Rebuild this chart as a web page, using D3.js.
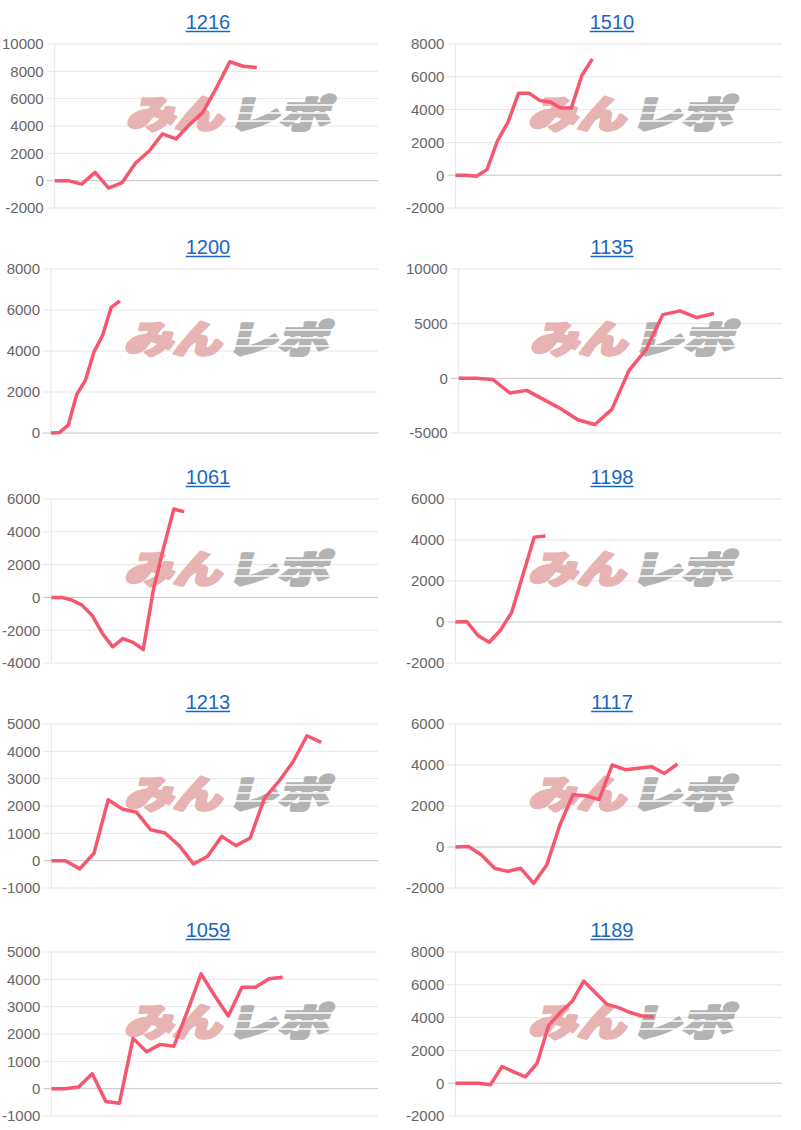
<!DOCTYPE html>
<html lang="ja">
<head>
<meta charset="UTF-8">
<title>差枚グラフ</title>
<style>
  body { margin: 0; background: #fff; }
  svg { display: block; font-family: "Liberation Sans", Arial, sans-serif; }
  .title { font-size: 20px; fill: #1a66c4; }
  .ylabel { font-size: 15px; fill: #666; }
  .wm { font-family: "Noto Sans CJK JP", sans-serif; font-weight: 900; font-size: 38px; stroke-width: 3; stroke-linejoin: round; }
</style>
</head>
<body>
<div id="charts"></div>
<script src="https://cdn.jsdelivr.net/npm/d3@7"></script>
<script>
// machine numbers, in page order (left→right, top→bottom)
const titles = ["1216", "1510", "1200", "1135", "1061", "1198", "1213", "1117", "1059", "1189"];

// number of x slots on each chart (the line stops part way)
const slotCounts = [25, 32, 39, 20, 33, 30, 24, 26, 25, 29];

// y axis ticks
const ticks1216 = [-2000, 0, 2000, 4000, 6000, 8000, 10000];
const ticks1510 = [-2000, 0, 2000, 4000, 6000, 8000];
const ticks1200 = [0, 2000, 4000, 6000, 8000];
const ticks1135 = [-5000, 0, 5000, 10000];
const ticks1061 = [-4000, -2000, 0, 2000, 4000, 6000];
const ticks1198 = [-2000, 0, 2000, 4000, 6000];
const ticks1213 = [-1000, 0, 1000, 2000, 3000, 4000, 5000];
const ticks1117 = [-2000, 0, 2000, 4000, 6000];
const ticks1059 = [-1000, 0, 1000, 2000, 3000, 4000, 5000];
const ticks1189 = [-2000, 0, 2000, 4000, 6000, 8000];

// values (差枚)
const values1216 = [0, 0, -250, 610, -540, -150, 1290, 2150, 3420, 3050, 4100, 5000, 6780, 8700, 8370, 8270];
const values1510 = [0, 0, -60, 340, 2100, 3240, 5000, 5000, 4560, 4460, 4090, 4090, 6080, 7090];
const values1200 = [0, 30, 380, 1890, 2570, 3960, 4770, 6130, 6450];
const values1135 = [0, 0, -100, -1340, -1100, -1950, -2780, -3790, -4220, -2840, 700, 2600, 5830, 6170, 5560, 5930];
const values1061 = [0, 0, -160, -470, -1100, -2200, -3020, -2510, -2740, -3180, 490, 3040, 5390, 5220];
const values1198 = [0, 30, -660, -990, -400, 470, 2300, 4140, 4200];
const values1213 = [0, 0, -300, 270, 2230, 1890, 1770, 1130, 1010, 550, -120, 160, 890, 550, 830, 2280, 2890, 3600, 4570, 4330];
const values1117 = [0, 20, -390, -1040, -1190, -1040, -1770, -860, 1070, 2550, 2500, 2310, 4000, 3770, 3840, 3920, 3590, 4050];
const values1059 = [0, 0, 60, 550, -470, -530, 1840, 1350, 1620, 1550, 2840, 4200, 3400, 2660, 3710, 3710, 4020, 4080];
const values1189 = [0, 0, 0, -100, 1020, 690, 390, 1200, 3530, 4310, 4980, 6230, 5520, 4810, 4610, 4310, 4100, 4040];

const tickSets = [ticks1216, ticks1510, ticks1200, ticks1135, ticks1061, ticks1198, ticks1213, ticks1117, ticks1059, ticks1189];
const seriesList = [values1216, values1510, values1200, values1135, values1061, values1198, values1213, values1117, values1059, values1189];

const width = 801;
const height = 1130;
const colLeft = [0, 404];
const rowTop = [44, 269, 499, 724, 952];
const plotH = 164;
const lineColor = "#f7566f";

const svg = d3.select("#charts")
  .append("svg")
  .attr("width", width)
  .attr("height", height);

titles.forEach((title, i) => {
  const col = i % 2;
  const row = Math.floor(i / 2);
  const left = colLeft[col];
  const top = rowTop[row];
  const tickVals = tickSets[i];
  const values = seriesList[i];

  const g = svg.append("g");

  // y labels first, so the axis can sit just right of the widest one
  const labels = g.selectAll(".ylabel")
    .data(tickVals)
    .enter()
    .append("text")
    .attr("class", "ylabel")
    .attr("text-anchor", "end")
    .text(d => d);
  let maxW = 0;
  labels.each(function () { maxW = Math.max(maxW, this.getComputedTextLength()); });

  const x0 = left + Math.max(51, 13 + maxW);
  const x1 = left + 378;

  const yScale = d3.scaleLinear()
    .domain(d3.extent(tickVals))
    .range([top + plotH, top]);

  const xScale = d3.scalePoint()
    .domain(d3.range(slotCounts[i]))
    .range([x0, x1]);

  labels
    .attr("x", x0 - 11)
    .attr("y", d => yScale(d))
    .attr("dy", "0.36em");

  // grid
  g.selectAll(".grid")
    .data(tickVals)
    .enter()
    .insert("line", "text")
    .attr("x1", x0 - 8)
    .attr("x2", x1)
    .attr("y1", d => yScale(d))
    .attr("y2", d => yScale(d))
    .attr("stroke", d => d === 0 ? "#c4c4c4" : "#e6e6e6")
    .attr("stroke-width", 1);

  g.append("line")
    .attr("x1", x0).attr("x2", x0)
    .attr("y1", top).attr("y2", top + plotH)
    .attr("stroke", "#e6e6e6");

  // watermark
  const cx = (x0 + x1) / 2 + 15;
  const cy = top + plotH / 2 - 12;
  const wm = g.append("g")
    .attr("opacity", 0.85)
    .attr("transform", `translate(${cx},${cy}) skewX(-14)`);
  wm.append("text")
    .attr("class", "wm")
    .attr("x", -102)
    .attr("y", 14)
    .attr("textLength", 97)
    .attr("lengthAdjust", "spacingAndGlyphs")
    .attr("fill", "#e3a6a6")
    .attr("stroke", "#e3a6a6")
    .text("みん");
  wm.append("text")
    .attr("class", "wm")
    .attr("x", 0)
    .attr("y", 14)
    .attr("textLength", 102)
    .attr("lengthAdjust", "spacingAndGlyphs")
    .attr("fill", "#a6a6a6")
    .attr("stroke", "#a6a6a6")
    .text("レポ");
  // speed-line slits through the grey part
  [-9, -1, 7].forEach(dy => {
    wm.append("line")
      .attr("x1", -2).attr("x2", 106)
      .attr("y1", dy).attr("y2", dy)
      .attr("stroke", "#fff")
      .attr("stroke-width", 1.5);
  });

  // line
  const line = d3.line()
    .x((d, k) => xScale(k))
    .y(d => yScale(d));

  g.append("path")
    .datum(values)
    .attr("d", line)
    .attr("fill", "none")
    .attr("stroke", lineColor)
    .attr("stroke-width", 3.5)
    .attr("stroke-linejoin", "round");

  // title (link style)
  const t = g.append("text")
    .attr("class", "title")
    .attr("x", left + 208)
    .attr("y", top - 15)
    .attr("text-anchor", "middle")
    .text(title);
  const bb = t.node().getBBox();
  g.append("line")
    .attr("x1", bb.x).attr("x2", bb.x + bb.width)
    .attr("y1", top - 12.5).attr("y2", top - 12.5)
    .attr("stroke", "#1a66c4")
    .attr("stroke-width", 1.5);
});
</script>
</body>
</html>
